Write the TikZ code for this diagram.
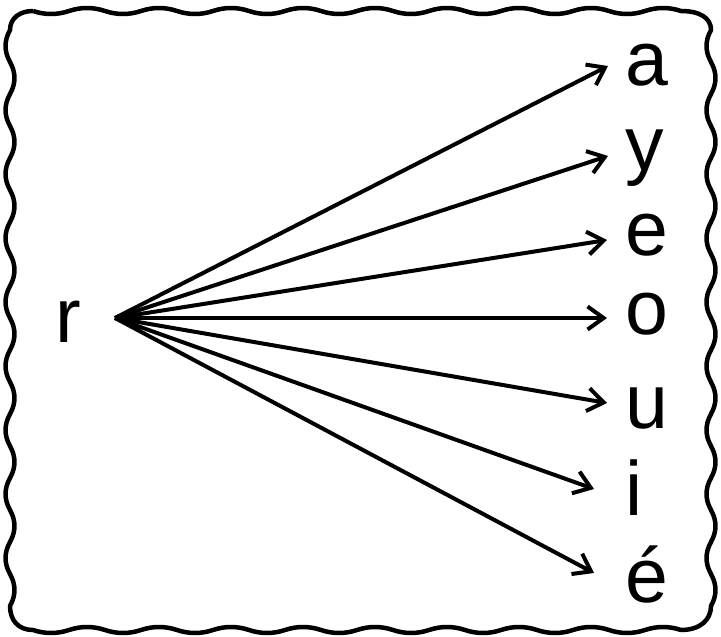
\documentclass[tikz,border=0pt]{standalone}
\usepackage{fontspec}
\setmainfont{Liberation Sans}
\usetikzlibrary{arrows.meta}
\begin{document}
\begin{tikzpicture}[x=1pt,y=-1pt,
  lett/.style={anchor=base west,inner sep=0pt,font=\fontsize{77}{77}\selectfont},
  conn/.style={line width=4pt,-{Straight Barb[length=16pt,width=23pt,line width=4pt]}},
  frame/.style={line width=4.5pt,line join=round}]
\useasboundingbox (0,0) rectangle (721,637);
\draw[frame] (33,11)
  \foreach \k in {0,...,17} {
    .. controls ({33+36*\k+12},{11+4*cos(180*\k)}) and ({33+36*\k+24},{11+4*cos(180*\k)}) .. ({33+36*(\k+1)},11) }
  .. controls (700,11) and (711,18) .. (711,30)
  \foreach \k in {0,...,17} {
    .. controls ({711-6*cos(180*\k)},{30+32*\k+11}) and ({711-6*cos(180*\k)},{30+32*\k+21}) .. (711,{30+32*(\k+1)}) }
  .. controls (711,620) and (700,630) .. (681,630)
  \foreach \k in {0,...,17} {
    .. controls ({681-36*\k-12},{630-4*cos(180*\k)}) and ({681-36*\k-24},{630-4*cos(180*\k)}) .. ({681-36*(\k+1)},630) }
  .. controls (18,630) and (10,620) .. (10,606)
  \foreach \k in {0,...,17} {
    .. controls ({10+6*cos(180*\k)},{606-32*\k-11}) and ({10+6*cos(180*\k)},{606-32*\k-21}) .. (10,{606-32*(\k+1)}) }
  .. controls (10,18) and (20,11) .. (33,11);
\node[lett] (r) at (55,342) {r};
\node[lett] (a) at (625,85) {a};
\node[lett] (y) at (625,170) {y};
\node[lett] (e) at (625,255) {e};
\node[lett] (o) at (625,334) {o};
\node[lett] (u) at (625,428) {u};
\node[lett] (i) at (625,515) {i};
\node[lett] (eacute) at (625,602) {é};
\coordinate (src) at (115,318);
\coordinate (ta) at (608,66);
\coordinate (ty) at (608,156);
\coordinate (te) at (607,240);
\coordinate (to) at (607,318);
\coordinate (tu) at (607,403);
\coordinate (ti) at (594,489);
\coordinate (teacute) at (594,573);
\foreach \t in {ta,ty,te,to,tu,ti,teacute}
  \draw[conn] (src) -- (\t);
\end{tikzpicture}
\end{document}
